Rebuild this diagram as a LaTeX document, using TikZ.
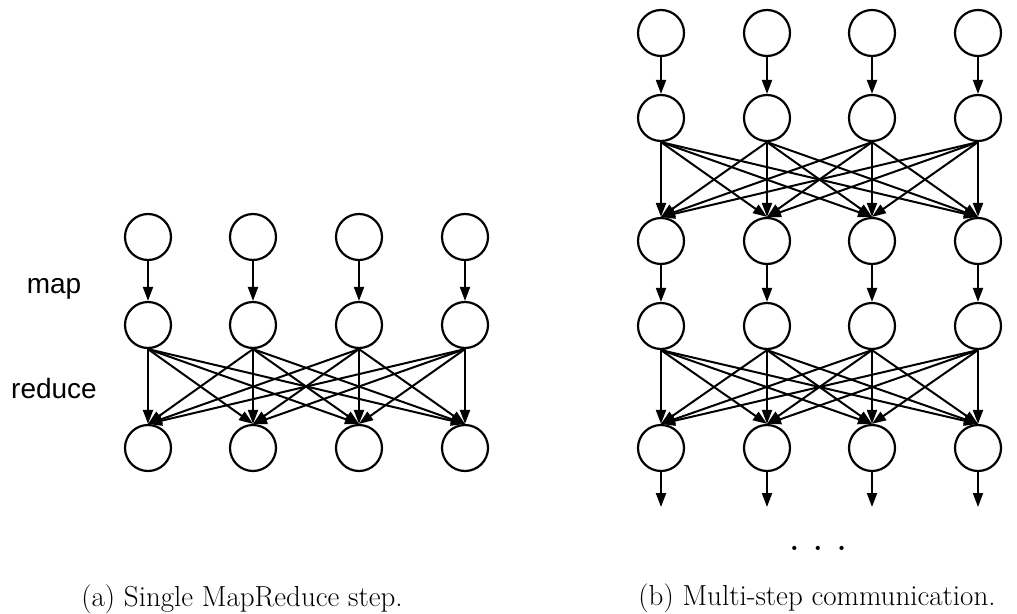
\documentclass[tikz,border=0pt]{standalone}
\usepackage{fontspec}
\newfontfamily\sansf{Liberation Sans}
\usetikzlibrary{arrows.meta}
\begin{document}
\begin{tikzpicture}[x=1pt,y=-1pt,
  nd/.style={circle,draw,line width=2.2pt,minimum size=46pt,inner sep=0pt},
  ar/.style={line width=2pt,-{Triangle[length=14pt,width=10pt]}},
  lbl/.style={font=\sansf\fontsize{28}{34}\selectfont, anchor=base, inner sep=0pt},
  captext/.style={font=\fontsize{29}{35}\selectfont, anchor=base, inner sep=0pt}]
\useasboundingbox (0,0) rectangle (1017,613);
% left diagram
\foreach \r/\y in {1/237,2/325,3/448}{
  \foreach \c/\x in {1/148,2/253,3/359,4/465}{
    \node[nd] (a\r-\c) at (\x,\y) {};
  }
}
\foreach \c in {1,2,3,4}{
  \draw[ar] (a1-\c.south) -- (a2-\c.north);
  \foreach \d in {1,2,3,4}{
    \draw[ar] (a2-\c.south) -- (a3-\d.north);
  }
}
\node[lbl] (map) at (54,293) {map};
\node[lbl] (red) at (54,398) {reduce};
\node[captext] (capa) at (242,606) {(a) Single MapReduce step.};
% right diagram
\foreach \r/\y in {1/33,2/118,3/241,4/326,5/448}{
  \foreach \c/\x in {1/661,2/767,3/872,4/978}{
    \node[nd] (b\r-\c) at (\x,\y) {};
  }
}
\foreach \c/\x in {1/661,2/767,3/872,4/978}{
  \coordinate (e\c) at (\x,507);
  \draw[ar] (b1-\c.south) -- (b2-\c.north);
  \draw[ar] (b3-\c.south) -- (b4-\c.north);
  \draw[ar] (b5-\c.south) -- (e\c);
  \foreach \d in {1,2,3,4}{
    \draw[ar] (b2-\c.south) -- (b3-\d.north);
    \draw[ar] (b4-\c.south) -- (b5-\d.north);
  }
}
\node[captext] (dots) at (818,550) {\bfseries . . .};
\node[captext] (capb) at (817,605) {(b) Multi-step communication.};
\end{tikzpicture}
\end{document}
